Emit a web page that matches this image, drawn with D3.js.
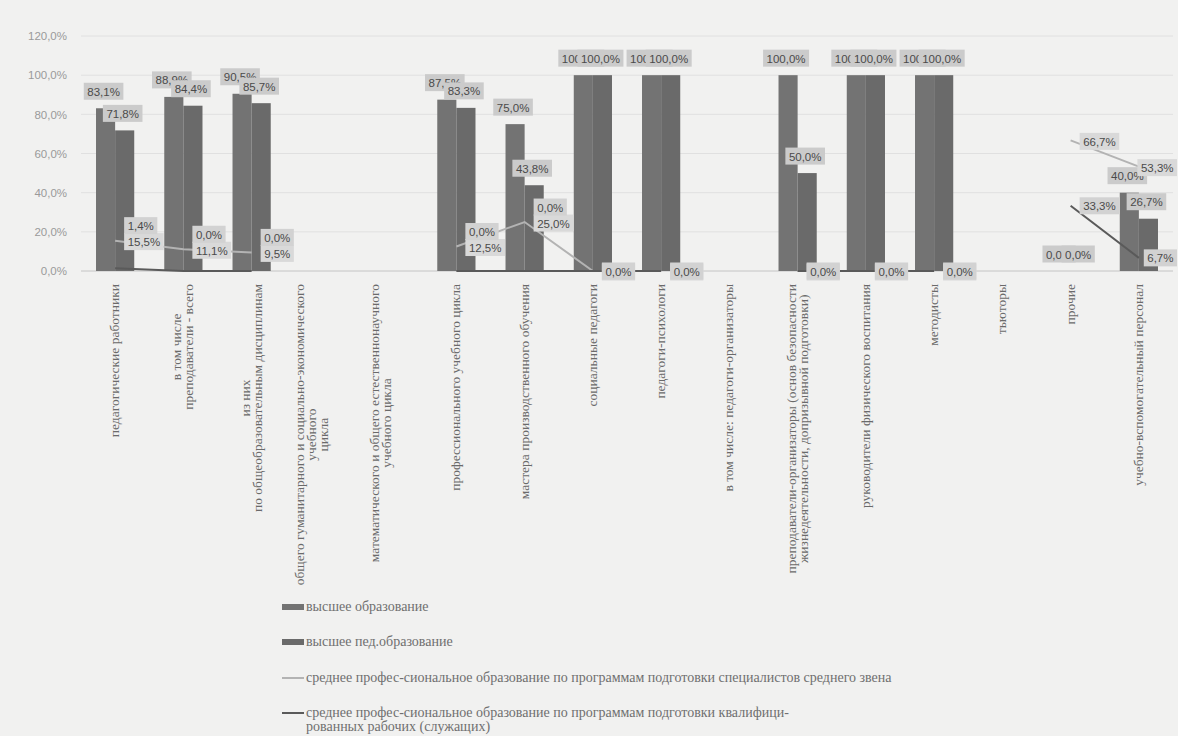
<!DOCTYPE html>
<html><head><meta charset="utf-8">
<script src="https://cdn.jsdelivr.net/npm/d3@7"></script>
<style>
html,body{margin:0;padding:0;background:#f1f1f0;}
svg{display:block;}
</style></head>
<body>
<svg id="chart" width="1178" height="736"></svg>
<script>
const categories = [
  ["педагогические работники"],
  ["в том числе", "преподаватели - всего"],
  ["из них", "по общеобразовательным дисциплинам"],
  ["общего гуманитарного и социально-экономического", "учебного", "цикла"],
  ["математического и общего естественнонаучного", "учебного цикла"],
  ["профессионального учебного цикла"],
  ["мастера производственного обучения"],
  ["социальные педагоги"],
  ["педагоги-психологи"],
  ["в том числе: педагоги-организаторы"],
  ["преподаватели-организаторы (основ безопасности", "жизнедеятельности, допризывной подготовки)"],
  ["руководители физического воспитания"],
  ["методисты"],
  ["тьюторы"],
  ["прочие"],
  ["учебно-вспомогательный персонал"]
];
const higherEd      = [83.1, 88.9, 90.5, null, null, 87.5, 75.0, 100, 100, null, 100, 100, 100, null, 0, 40.0];
const higherPedEd   = [71.8, 84.4, 85.7, null, null, 83.3, 43.8, 100, 100, null, 50.0, 100, 100, null, 0, 26.7];
const midSpecialist = [15.5, 11.1, 9.5, null, null, 12.5, 25.0, 0, 0, null, 0, 0, 0, null, 66.7, 53.3];
const midWorker     = [1.4, 0, 0, null, null, 0, 0, 0, 0, null, 0, 0, 0, null, 33.3, 6.7];
const yTicks = [0, 20, 40, 60, 80, 100, 120];
const seriesNames = [
  ["высшее образование"],
  ["высшее пед.образование"],
  ["среднее профес-сиональное образование по программам подготовки специалистов среднего звена"],
  ["среднее профес-сиональное образование по программам подготовки квалифици-", "рованных рабочих (служащих)"]
];

const svg = d3.select("#chart");
const W = 1178, H = 736;
svg.append("rect").attr("width", W).attr("height", H).attr("fill", "#f1f1f0");

const x = d3.scaleBand().domain(d3.range(categories.length)).range([81, 1173]).padding(0);
const y = d3.scaleLinear().domain([0, 120]).range([271, 36]);
const groupW = x.bandwidth() * 0.56;
const xb = d3.scaleBand().domain([0, 1]).range([0, groupW]).padding(0);
const cx = i => x(i) + x.bandwidth() / 2;
const fmt = v => d3.format(".1f")(v).replace(".", ",") + "%";

const barColors = ["#737373", "#6a6a6a"];
const lightLine = "#b3b3b3", darkLine = "#5a5a5a";

// gridlines
svg.append("g").selectAll("line").data(yTicks).join("line")
  .attr("x1", 81).attr("x2", 1173)
  .attr("y1", d => y(d)).attr("y2", d => y(d))
  .attr("stroke", d => d === 0 ? "#c4c4c4" : "#e0e0e0").attr("stroke-width", 1);

// y axis labels
const yAxis = d3.axisLeft(y).tickValues(yTicks).tickFormat(fmt).tickSize(0).tickPadding(0);
const gy = svg.append("g").attr("transform", "translate(67,0)").call(yAxis);
gy.select(".domain").remove();
gy.selectAll("text").attr("font-family", "Liberation Sans, Arial, sans-serif")
  .attr("font-size", 11.5).attr("fill", "#9a9a9a");

// bars
[higherEd, higherPedEd].forEach((arr, s) => {
  svg.append("g").selectAll("rect").data(arr.map((v, i) => ({v, i})).filter(d => d.v != null))
    .join("rect")
    .attr("x", d => cx(d.i) - groupW / 2 + xb(s))
    .attr("width", xb.bandwidth())
    .attr("y", d => y(d.v))
    .attr("height", d => y(0) - y(d.v))
    .attr("fill", barColors[s]);
});

// lines
const lineGen = d3.line().defined(d => d.v != null).x(d => cx(d.i)).y(d => y(d.v));
[[midSpecialist, lightLine], [midWorker, darkLine]].forEach(([arr, col]) => {
  svg.append("path").datum(arr.map((v, i) => ({v, i})))
    .attr("d", lineGen).attr("fill", "none").attr("stroke", col).attr("stroke-width", 2);
});

// labels
const labelLayer = svg.append("g");
function addLabel(text, xc, yc, anchorLeft, fill) {
  const g = labelLayer.append("g");
  const t = g.append("text").text(text)
    .attr("font-family", "Liberation Sans, Arial, sans-serif").attr("font-size", 11.5)
    .attr("fill", "#4a4a4a").attr("dominant-baseline", "central");
  const w = t.node().getComputedTextLength();
  const bw = w + 7, bh = 17;
  let left = anchorLeft ? xc : xc - bw / 2;
  left = Math.min(left, W - bw - 1);
  g.insert("rect", "text").attr("x", left).attr("y", yc - bh / 2).attr("width", bw).attr("height", bh).attr("fill", fill);
  t.attr("x", left + 3.5).attr("y", yc + 0.5);
}
[higherEd, higherPedEd].forEach((arr, s) => {
  arr.forEach((v, i) => {
    if (v == null) return;
    addLabel(fmt(v), cx(i) - groupW / 2 + xb(s) + xb.bandwidth() / 2 - 2, y(v) - 17, false, "#cbcbcb");
  });
});
midSpecialist.forEach((v, i) => {
  if (v == null) return;
  addLabel(fmt(v), cx(i) + 9, y(v) + 1, true, "#d9d9d9");
});
midWorker.forEach((v, i) => {
  if (v == null) return;
  const ly = y(midSpecialist[i]), dy = y(v);
  let yc = dy;
  if (dy - ly > 0 && dy - ly < 55) yc = ly - 15;
  addLabel(fmt(v), cx(i) + 9, yc, true, "#d2d2d2");
});

// category labels
const catG = svg.append("g");
categories.forEach((lines, i) => {
  const n = lines.length;
  const t = catG.append("text")
    .attr("font-family", "Liberation Serif, Times New Roman, serif")
    .attr("font-size", 13.5).attr("fill", "#6a6a6a").attr("text-anchor", "middle");
  lines.forEach((ln, k) => {
    t.append("tspan").attr("x", 0).attr("y", 12 * k - 12 * (n - 1) / 2 + 6).text(ln);
  });
  let maxW = 0;
  t.selectAll("tspan").each(function () { maxW = Math.max(maxW, this.getComputedTextLength()); });
  const shift = n === 3 ? -8 : (i === 4 ? -7 : 0);
  t.attr("transform", `translate(${cx(i) - 2 + shift},${284 + maxW / 2}) rotate(-90)`);
});

// legend
const leg = svg.append("g");
const legY = [607, 642, 678, 713];
seriesNames.forEach((lines, s) => {
  const yy = legY[s];
  if (s < 2) {
    leg.append("rect").attr("x", 282).attr("y", yy - 3).attr("width", 22).attr("height", 6).attr("fill", barColors[s]);
  } else {
    leg.append("line").attr("x1", 282).attr("x2", 304).attr("y1", yy).attr("y2", yy)
      .attr("stroke", s === 2 ? lightLine : darkLine).attr("stroke-width", 2);
  }
  lines.forEach((ln, k) => {
    leg.append("text").attr("font-family", "Liberation Serif, Times New Roman, serif")
      .attr("font-size", 14).attr("fill", "#6f6f6f")
      .attr("x", 306).attr("y", yy + 4 + 14 * k).text(ln);
  });
});
</script>
</body></html>
